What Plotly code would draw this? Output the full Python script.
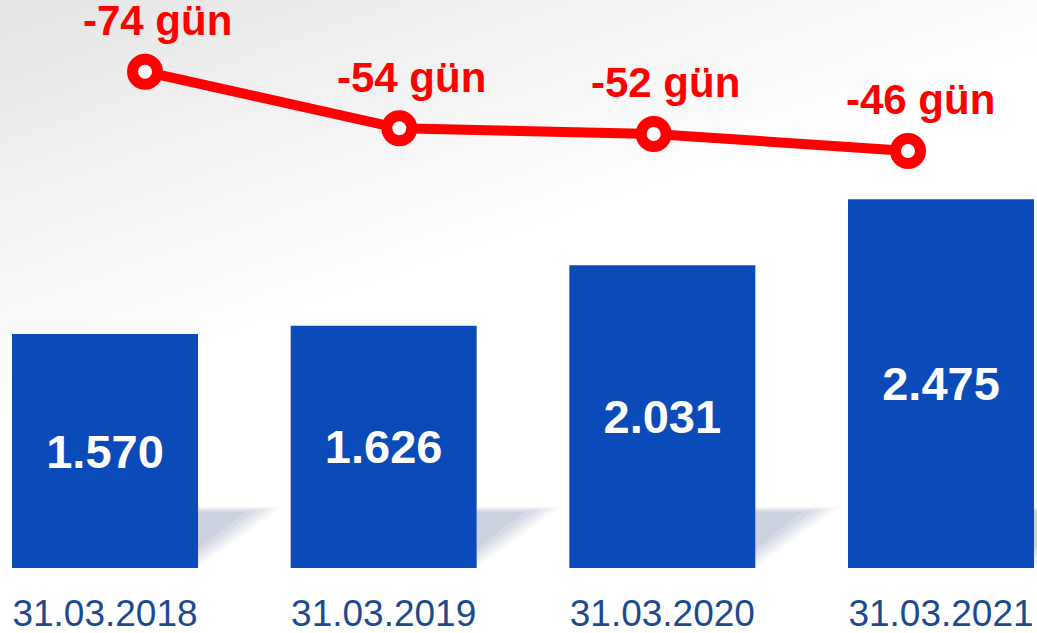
import plotly.graph_objects as go

# ---- data ----
dates = ["31.03.2018", "31.03.2019", "31.03.2020", "31.03.2021"]
bar_values = [1570, 1626, 2031, 2475]
day_values = [-74, -54, -52, -46]
bar_labels = [f"{v:,}".replace(",", ".") for v in bar_values]
day_labels = [f"{v} gün" for v in day_values]

W, H = 1037, 633
FONT = "Liberation Sans, Arial, sans-serif"
BAR_W = 0.6675
xs = list(range(len(dates)))

fig = go.Figure()

fig.add_trace(go.Bar(
    x=xs, y=bar_values, width=BAR_W,
    marker=dict(color="#0a4ab9", line=dict(width=0)),
    text=bar_labels, textposition="inside", insidetextanchor="middle",
    textfont=dict(family=FONT, size=47, color="white", weight="bold"),
    constraintext="none", cliponaxis=False, hoverinfo="skip",
    xaxis="x", yaxis="y",
))

fig.add_trace(go.Scatter(
    x=xs, y=day_values, mode="lines+markers",
    line=dict(color="#ff0000", width=10),
    marker=dict(size=25, color="white", line=dict(color="#ff0000", width=11)),
    xaxis="x2", yaxis="y2", cliponaxis=False, hoverinfo="skip",
))

annotations = []
for i, (v, t) in enumerate(zip(day_values, day_labels)):
    annotations.append(dict(
        x=i, y=v, xref="x2", yref="y2", text=t, showarrow=False,
        xshift=12, yshift=51, borderpad=0,
        font=dict(family=FONT, size=42, color="#ff0000", weight="bold"),
    ))

# background diagonal gradient (decorative)
shapes = []
plot_h = 568.0
a = 0.35
smax = 430.0
steps = 30
for k in range(steps, 0, -1):
    s = smax * k / steps
    frac = s / smax
    c = int(round(0xe4 + (0xff - 0xe4) * frac))
    col = f"rgb({c},{c},{c})"
    x1 = (s / a) / W
    y1 = 1 - s / plot_h
    shapes.append(dict(type="path", xref="paper", yref="paper", layer="below",
                       path=f"M 0 1 L {x1} 1 L 0 {y1} Z",
                       fillcolor=col, line=dict(width=0)))

# bar shadows (decorative, soft)
layers = [(0.30, 410, 10, 0.09), (0.27, 402, 40, 0.11), (0.24, 394, 70, 0.13),
          (0.21, 386, 100, 0.15), (0.17, 378, 130, 0.17)]
for i in xs:
    right = i + BAR_W / 2
    for dx, top, bot, op in layers:
        shapes.append(dict(type="path", xref="x", yref="y", layer="below",
                           path=f"M {right} {top} L {right + dx} {top} L {right} {bot} Z",
                           fillcolor="#9aa6c2", opacity=op, line=dict(width=0)))

fig.update_layout(
    width=W, height=H,
    margin=dict(l=0, r=0, t=0, b=65),
    paper_bgcolor="white", plot_bgcolor="rgba(0,0,0,0)",
    showlegend=False,
    xaxis=dict(range=[-0.3768, 3.3445], tickmode="array", tickvals=xs, ticktext=dates,
               showgrid=False, zeroline=False, showline=False, ticks="",
               tickfont=dict(family=FONT, size=37, color="#1c4a8f"),
               ticklabelstandoff=20, fixedrange=True),
    yaxis=dict(range=[0, 3812], visible=False, showgrid=False, zeroline=False, fixedrange=True),
    xaxis2=dict(range=[-0.5701, 3.5072], overlaying="x", visible=False, fixedrange=True),
    yaxis2=dict(range=[101.25, -99.31], overlaying="y", visible=False, fixedrange=True),
    annotations=annotations,
    shapes=shapes,
)

fig.write_html("out.html", config={"displayModeBar": False},
               post_script="document.body.style.margin='0';document.body.style.overflow='hidden';")
